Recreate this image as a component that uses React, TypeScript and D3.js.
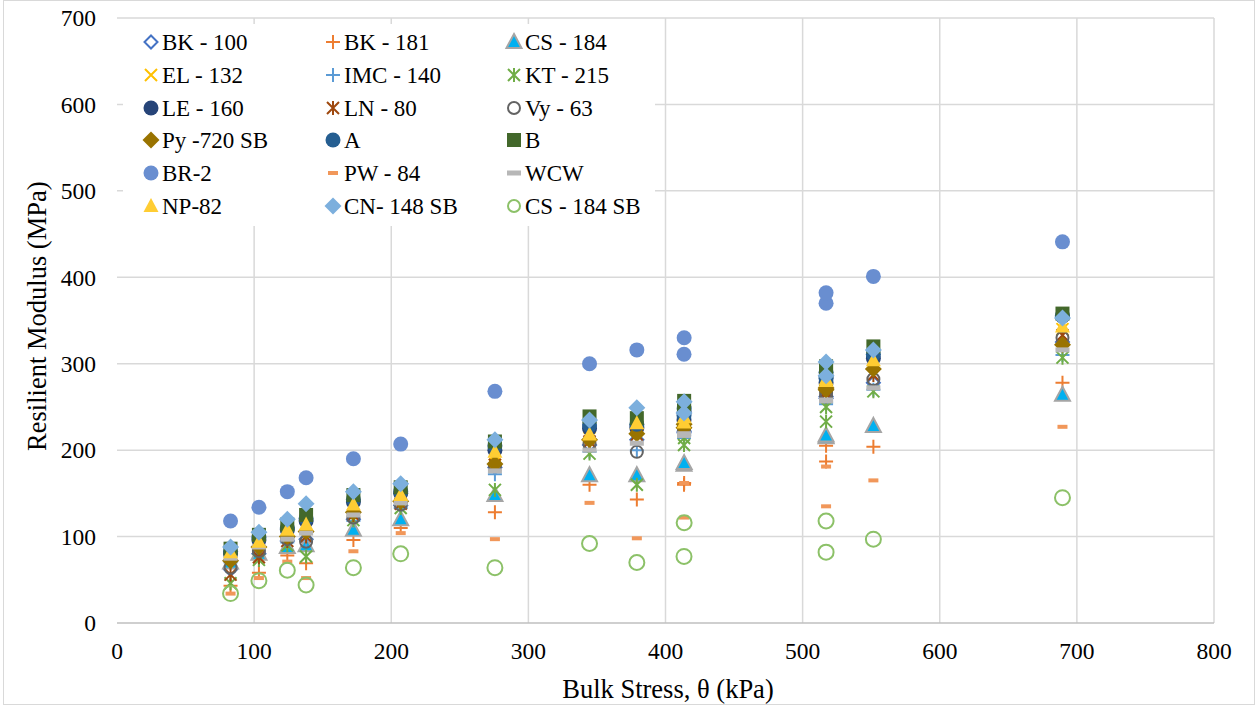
import React from "react";
import * as d3 from "d3";

const BULK = [82.8, 103.5, 124.2, 137.9, 172.4, 206.9, 275.6, 344.6, 413.5, 379.1, 413.6, 517.1, 517.1, 551.6, 689.5];

const BK100 = [62, 80, 95, 97, 120, 136, 180, 206, 220, 212, 222, 260, 262, 278, 325];
const BK181 = [43, 58, 78, 69, 96, 110, 128, 160, 160, 143, 162, 187, 205, 204, 278];
const CS184 = [70, 80, 88, 90, 108, 120, 148, 171, 183, 171, 185, 215, 217, 228, 264];
const EL132 = [78, 92, 104, 112, 133, 144, 195, 214, 228, 227, 234, 275, 278, 300, 340];
const IMC140 = [70, 85, 93, 96, 118, 133, 172, 198, 214, 200, 217, 253, 255, 270, 310];
const KT215 = [46, 73, 90, 77, 119, 133, 154, 196, 206, 160, 214, 233, 250, 268, 307];
const LE160 = [80, 96, 108, 118, 140, 150, 200, 225, 235, 226, 244, 278, 285, 306, 355];
const LN80 = [56, 76, 95, 100, 125, 138, 183, 210, 224, 218, 228, 265, 268, 287, 333];
const VY63 = [64, 83, 97, 94, 122, 137, 182, 207, 222, 198, 225, 262, 266, 282, 330];
const PY720 = [72, 88, 100, 106, 128, 141, 184, 212, 226, 219, 230, 270, 272, 294, 322];
const A = [83, 99, 110, 121, 143, 152, 205, 229, 240, 230, 248, 283, 290, 311, 356];
const B = [86, 102, 114, 125, 148, 157, 210, 239, 250, 237, 257, 292, 297, 320, 358];
const BR2 = [118, 134, 152, 168, 190, 207, 268, 300, 311, 316, 330, 370, 382, 401, 441];
const PW84 = [34, 52, 71, 52, 83, 104, 97, 139, 122, 98, 162, 135, 181, 165, 227];
const WCW = [75, 88, 97, 104, 125, 139, 176, 200, 217, 208, 219, 257, 258, 272, 316];
const NP82 = [82, 94, 108, 114, 137, 148, 198, 218, 232, 231, 238, 280, 282, 304, 343];
const CN148 = [88, 105, 120, 138, 152, 161, 212, 235, 243, 249, 256, 286, 302, 316, 353];
const CS184SB = [34, 49, 61, 44, 64, 80, 64, 92, 77, 70, 116, 82, 118, 97, 145];

const X_TICKS = [0, 100, 200, 300, 400, 500, 600, 700, 800];
const Y_TICKS = [0, 100, 200, 300, 400, 500, 600, 700];

type Shape =
  | "hdiamond" | "plus" | "tri" | "x" | "star" | "circle" | "hcircle"
  | "diamond" | "square" | "dash" | "longdash";

interface Series { name: string; values: number[]; shape: Shape; fill: string; stroke?: string; r?: number; }

const SERIES: Series[] = [
  { name: "BK - 100", values: BK100, shape: "hdiamond", fill: "#4472C4" },
  { name: "BK - 181", values: BK181, shape: "plus", fill: "#ED7D31" },
  { name: "CS - 184", values: CS184, shape: "tri", fill: "#00B0F0", stroke: "#A5A5A5" },
  { name: "EL - 132", values: EL132, shape: "x", fill: "#FFC000" },
  { name: "IMC - 140", values: IMC140, shape: "plus", fill: "#5B9BD5" },
  { name: "KT - 215", values: KT215, shape: "star", fill: "#70AD47" },
  { name: "LE - 160", values: LE160, shape: "circle", fill: "#264478" },
  { name: "LN - 80", values: LN80, shape: "star", fill: "#9E480E" },
  { name: "Vy - 63", values: VY63, shape: "hcircle", fill: "#636363", r: 6 },
  { name: "Py -720 SB", values: PY720, shape: "diamond", fill: "#997300" },
  { name: "A", values: A, shape: "circle", fill: "#255E91" },
  { name: "B", values: B, shape: "square", fill: "#43682B" },
  { name: "BR-2", values: BR2, shape: "circle", fill: "#698ED0" },
  { name: "PW - 84", values: PW84, shape: "dash", fill: "#F1975A" },
  { name: "WCW", values: WCW, shape: "longdash", fill: "#B7B7B7" },
  { name: "NP-82", values: NP82, shape: "tri", fill: "#FFCD33" },
  { name: "CN- 148 SB", values: CN148, shape: "diamond", fill: "#7CAFDD" },
  { name: "CS - 184 SB", values: CS184SB, shape: "hcircle", fill: "#8CC168", r: 7.5 },
];

const W = 1258;
const H = 705;
const xS = d3.scaleLinear().domain([0, 800]).range([117, 1214]);
const yS = d3.scaleLinear().domain([0, 700]).range([623, 18]);
const FONT = '"Liberation Serif", "Times New Roman", Times, serif';
const TS: React.CSSProperties = { fontFamily: FONT };

function Marker({ s, cx, cy, legend }: { s: Series; cx: number; cy: number; legend?: boolean }) {
  const c = s.fill;
  switch (s.shape) {
    case "hdiamond":
      return <path d={`M${cx},${cy - 6.5}L${cx + 6.5},${cy}L${cx},${cy + 6.5}L${cx - 6.5},${cy}Z`} fill="none" stroke={c} strokeWidth={2} />;
    case "diamond":
      return <path d={`M${cx},${cy - 8.5}L${cx + 8.5},${cy}L${cx},${cy + 8.5}L${cx - 8.5},${cy}Z`} fill={c} />;
    case "plus":
      return <path d={`M${cx - 7},${cy}H${cx + 7}M${cx},${cy - 7}V${cy + 7}`} stroke={c} strokeWidth={2} />;
    case "x":
      return <path d={`M${cx - 6},${cy - 6}L${cx + 6},${cy + 6}M${cx - 6},${cy + 6}L${cx + 6},${cy - 6}`} stroke={c} strokeWidth={2} />;
    case "star":
      return <path d={`M${cx - 6},${cy - 6}L${cx + 6},${cy + 6}M${cx - 6},${cy + 6}L${cx + 6},${cy - 6}M${cx},${cy - 7}V${cy + 7}`} stroke={c} strokeWidth={2} />;
    case "tri":
      return <path d={`M${cx},${cy - 8}L${cx + 7.5},${cy + 6}L${cx - 7.5},${cy + 6}Z`} fill={c} stroke={s.stroke || "none"} strokeWidth={s.stroke ? 2 : 0} />;
    case "circle":
      return <circle cx={cx} cy={cy} r={7.5} fill={c} />;
    case "hcircle":
      return <circle cx={cx} cy={cy} r={legend ? 6 : (s.r || 6)} fill="none" stroke={c} strokeWidth={2} />;
    case "square":
      return <rect x={cx - 7} y={cy - 7} width={14} height={14} fill={c} />;
    case "dash":
      return <rect x={cx - 5} y={cy - 2} width={10} height={4} fill={c} />;
    case "longdash":
      return <rect x={cx - 7} y={cy - 2.5} width={14} height={5} fill={c} />;
  }
  return null;
}

export default function App() {
  const legendCols = [151, 333, 514];
  const legendRows = [42, 75, 108, 140, 173, 206];
  return (
    <svg width={W} height={H} style={{ position: "absolute", left: 0, top: 0, background: "#fff", fontFamily: FONT }}>
      <rect x={0} y={0} width={W} height={H} fill="#fff" />
      <rect x={3.5} y={0.5} width={W - 7} height={H - 1} fill="none" stroke="#D9D9D9" strokeWidth={1} />
      {Y_TICKS.filter((t) => t > 0).map((t) => (
        <line key={"gy" + t} x1={xS(0)} x2={xS(800)} y1={yS(t)} y2={yS(t)} stroke="#D9D9D9" strokeWidth={1.5} />
      ))}
      {X_TICKS.filter((t) => t > 0).map((t) => (
        <line key={"gx" + t} x1={xS(t)} x2={xS(t)} y1={yS(0)} y2={yS(700)} stroke="#D9D9D9" strokeWidth={1.5} />
      ))}
      <line x1={xS(0)} x2={xS(800)} y1={yS(0)} y2={yS(0)} stroke="#BFBFBF" strokeWidth={1.5} />
      {Y_TICKS.map((t) => (
        <text key={"ty" + t} x={96} y={yS(t)} dy="0.35em" textAnchor="end" fontSize={23.5} fill="#000" style={TS}>{t}</text>
      ))}
      {X_TICKS.map((t) => (
        <text key={"tx" + t} x={xS(t)} y={659} textAnchor="middle" fontSize={23.5} fill="#000" style={TS}>{t}</text>
      ))}
      <text x={668} y={698} textAnchor="middle" fontSize={26.5} style={TS}>Bulk Stress, θ (kPa)</text>
      <text transform={`translate(46,${yS(355)}) rotate(-90)`} textAnchor="middle" fontSize={26.5} style={TS}>Resilient Modulus (MPa)</text>
      <rect x={123} y={24} width={532} height={202} fill="#fff" />
      {SERIES.map((s) => (
        <g key={s.name}>
          {s.values.map((v, i) => (
            <Marker key={i} s={s} cx={xS(BULK[i])} cy={yS(v)} />
          ))}
        </g>
      ))}
      {SERIES.map((s, i) => {
        const cx = legendCols[i % 3];
        const cy = legendRows[Math.floor(i / 3)];
        return (
          <g key={"lg" + s.name}>
            <Marker s={s} cx={cx} cy={cy} legend />
            <text x={cx + 11} y={cy} dy="0.35em" fontSize={23} fill="#000" style={TS}>{s.name}</text>
          </g>
        );
      })}
    </svg>
  );
}
